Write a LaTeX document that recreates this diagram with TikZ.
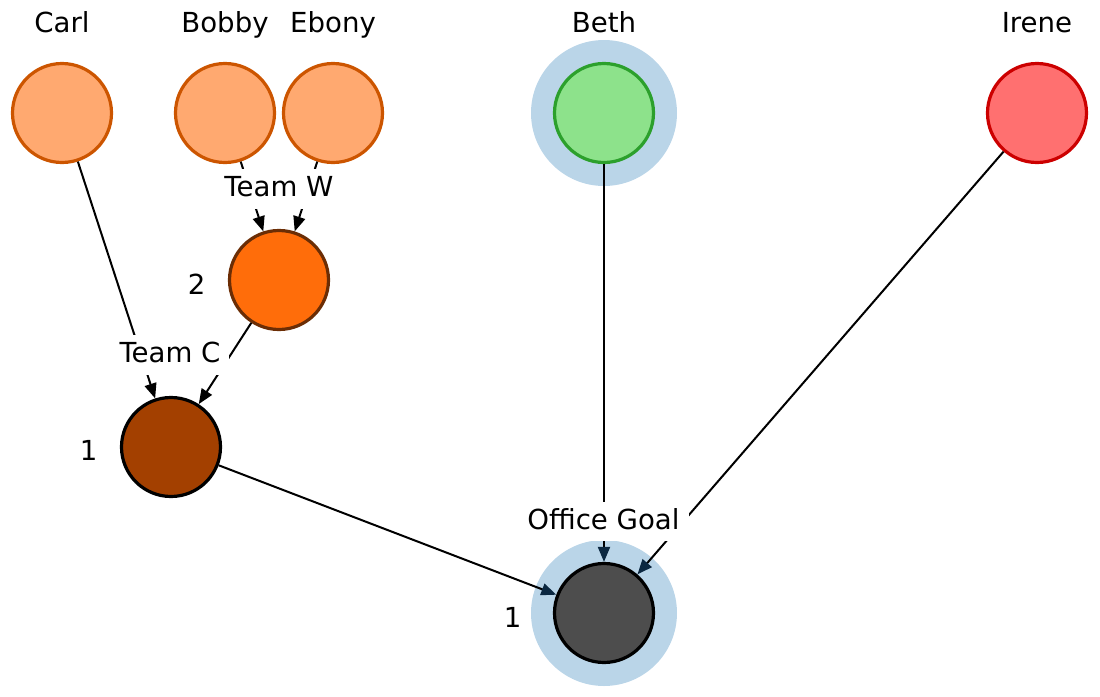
\documentclass[tikz,border=0pt]{standalone}
\usepackage{fontspec}
\setmainfont{DejaVu Sans}
\usetikzlibrary{positioning,arrows.meta}
\definecolor{memberfill}{HTML}{FFA970}
\definecolor{memberline}{HTML}{CC5500}
\definecolor{teamwfill}{HTML}{FF6D0A}
\definecolor{teamwline}{HTML}{6B2D05}
\definecolor{teamcfill}{HTML}{A34000}
\definecolor{goalfill}{HTML}{4D4D4D}
\definecolor{bethfill}{HTML}{8DE28B}
\definecolor{bethline}{HTML}{2CA02C}
\definecolor{irenefill}{HTML}{FF7070}
\definecolor{ireneline}{HTML}{CC0000}
\definecolor{halocolor}{HTML}{BAD5E8}
\definecolor{arrowblue}{HTML}{0B2841}
\tikzset{
	person/.style={circle, line width=1.6pt, minimum size=49.5pt, inner sep=0pt},
	member/.style={person, draw=memberline, fill=memberfill},
	teamw/.style={person, draw=teamwline, fill=teamwfill},
	teamc/.style={person, draw=black, fill=teamcfill},
	goal/.style={person, draw=black, fill=goalfill},
	beth/.style={person, draw=bethline, fill=bethfill},
	irene/.style={person, draw=ireneline, fill=irenefill},
	halo/.style={circle, fill=halocolor, minimum size=73pt, inner sep=0pt},
	personname/.style={inner sep=0pt},
	count/.style={inner sep=0pt},
	teamlabel/.style={fill=white, inner xsep=4.5pt, inner ysep=5.1pt, text height=0.8645em, text depth=0.1355em},
	link/.style={line width=1pt, -{Triangle[length=7.5pt,width=6pt]}},
	goallink/.style={line width=1pt, -{Triangle[length=7.5pt,width=6pt,color=arrowblue]}}
}
\begin{document}
\begin{tikzpicture}[x=0.5pt, y=-0.5pt, font=\fontsize{13.8}{16}\selectfont]
		\useasboundingbox (0,0) rectangle (1100,697);
		% halos
		\node[halo] (bethhalo) at (604,113) {};
		\node[halo] (goalhalo) at (604,613) {};
		
		% people and teams
		\node[member] (carl) at (62,113) {};
		\node[member] (bobby) at (225,113) {};
		\node[member] (ebony) at (333,113) {};
		\node[beth] (beth) at (604,113) {};
		\node[irene] (irene) at (1037,113) {};
		\node[teamw] (teamw) at (279,280) {};
		\node[teamc] (teamc) at (171,447) {};
		\node[goal] (goal) at (604,613) {};
		
		\node[personname, above=14.75pt of carl.north, anchor=base] (carlname) {Carl};
		\node[personname, above=14.75pt of bobby.north, anchor=base] (bobbyname) {Bobby};
		\node[personname, above=14.75pt of ebony.north, anchor=base] (ebonyname) {Ebony};
		\node[personname, above=14.75pt of beth.north, anchor=base] (bethname) {Beth};
		\node[personname, above=14.75pt of irene.north, anchor=base] (irenename) {Irene};
		
		\node[count, left=11pt of teamw, yshift=-2pt] (teamwcount) {2};
		\node[count, left=11pt of teamc, yshift=-1.5pt] (teamccount) {1};
		\node[count, left=15.5pt of goal, yshift=-2pt] (goalcount) {1};
		
		% edges
		\draw[link] (bobby) -- (teamw);
		\draw[link] (ebony) -- (teamw);
		\draw[link] (carl) -- (teamc);
		\draw[link] (teamw) -- (teamc);
		\draw[goallink] (teamc) -- (goal);
		\draw[goallink] (beth) -- (goal);
		\draw[goallink] (irene) -- (goal);
		
		% team labels over the edges
		\node[teamlabel] (teamwlabel) at (279,189) {Team W};
		\node[teamlabel] (teamclabel) at (170,355) {Team C};
		\begin{scope}
			\clip (0,0) rectangle (1100,540);
			\node[teamlabel] (goallabel) at (603.5,522) {Office Goal};
		\end{scope}
	\end{tikzpicture}
\end{document}
